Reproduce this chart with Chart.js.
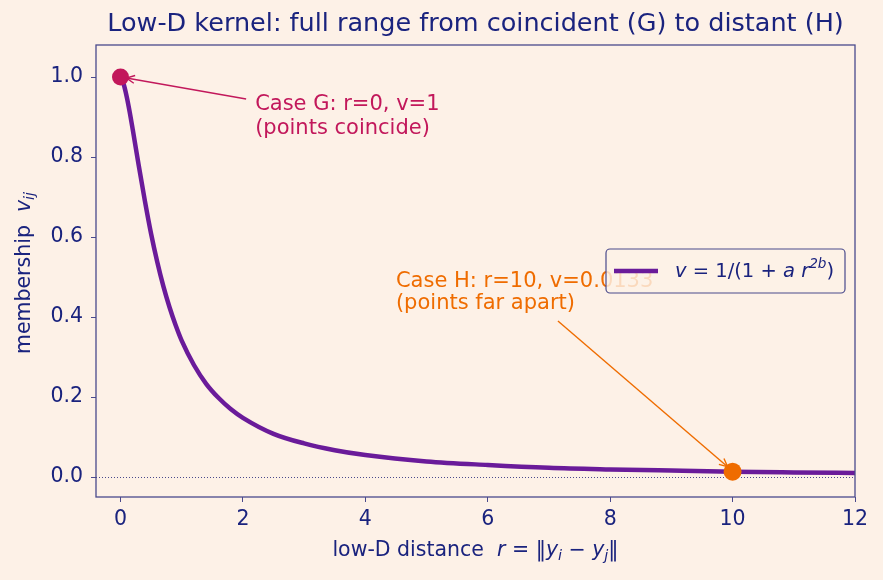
<!DOCTYPE html>
<html lang="en">
<head>
  <meta charset="UTF-8" />
  <title>Low-D kernel</title>
  <script src="https://cdn.jsdelivr.net/npm/chart.js"></script>
  <style>
    html, body { margin: 0; padding: 0; background: #fdf1e7; }
    #wrap { width: 883px; height: 580px; }
  </style>
</head>
<body>
  <div id="wrap"><canvas id="kernelChart" width="883" height="580"></canvas></div>

  <script>
    // distances r and kernel values v
    const rValues = [0, 0.05, 0.1, 0.15, 0.2, 0.3, 0.4, 0.5, 0.6, 0.7, 0.8, 0.9, 1.0, 1.2, 1.4, 1.6, 1.8, 2.0, 2.5, 3.0, 3.5, 4, 5, 6, 7, 8, 9, 10, 11, 12];
    const vValues = [1.0, 0.983, 0.952, 0.913, 0.869, 0.777, 0.689, 0.608, 0.538, 0.477, 0.425, 0.380, 0.341, 0.280, 0.233, 0.198, 0.170, 0.148, 0.108, 0.084, 0.067, 0.055, 0.039, 0.030, 0.023, 0.019, 0.016, 0.0133, 0.0115, 0.010];

    const caseG = { r: 0, v: 1 };
    const caseH = { r: 10, v: 0.0133 };

    const xTicks = [0, 2, 4, 6, 8, 10, 12];
    const yTicks = [0, 0.2, 0.4, 0.6, 0.8, 1.0];

    const navy = "#1a237e";
    const spine = "#4a4a8c";
    const purple = "#6a1b9a";
    const pink = "#c2185b";
    const orange = "#ef6c00";
    const FONT = "'DejaVu Sans', sans-serif";

    // draw a run of text pieces, some italic, some sub/superscript
    function drawRuns(ctx, runs, x, y, size, color, align) {
      ctx.save();
      ctx.fillStyle = color;
      ctx.textBaseline = "middle";
      ctx.textAlign = "left";
      const fontFor = (r) => {
        const s = r.sub || r.sup ? size * 0.7 : size;
        return (r.it ? "oblique " : "") + s + "px " + FONT;
      };
      let total = 0;
      runs.forEach(r => { ctx.font = fontFor(r); total += ctx.measureText(r.t).width; });
      let cx = align === "center" ? x - total / 2 : x;
      runs.forEach(r => {
        ctx.font = fontFor(r);
        let dy = 0;
        if (r.sub) dy = size * 0.28;
        if (r.sup) dy = -size * 0.38;
        ctx.fillText(r.t, cx, y + dy);
        cx += ctx.measureText(r.t).width;
      });
      ctx.restore();
    }

    function arrow(ctx, x1, y1, x2, y2, color) {
      ctx.save();
      ctx.strokeStyle = color;
      ctx.lineWidth = 1.4;
      ctx.beginPath();
      ctx.moveTo(x1, y1);
      ctx.lineTo(x2, y2);
      ctx.stroke();
      const ang = Math.atan2(y2 - y1, x2 - x1);
      const L = 9, w = 0.45;
      ctx.beginPath();
      ctx.moveTo(x2 - L * Math.cos(ang - w), y2 - L * Math.sin(ang - w));
      ctx.lineTo(x2, y2);
      ctx.lineTo(x2 - L * Math.cos(ang + w), y2 - L * Math.sin(ang + w));
      ctx.stroke();
      ctx.restore();
    }

    const decorations = {
      id: "decorations",
      beforeDraw(chart) {
        const ctx = chart.ctx;
        ctx.save();
        ctx.fillStyle = "#fdf1e7";
        ctx.fillRect(0, 0, chart.width, chart.height);
        ctx.restore();
      },
      beforeDatasetsDraw(chart) {
        const { ctx, chartArea: a, scales: { y } } = chart;
        const y0 = y.getPixelForValue(0);
        ctx.save();
        ctx.strokeStyle = spine;
        ctx.lineWidth = 1;
        ctx.setLineDash([1, 2]);
        ctx.beginPath();
        ctx.moveTo(a.left, y0 + 0.5);
        ctx.lineTo(a.right, y0 + 0.5);
        ctx.stroke();
        ctx.restore();
      },
      afterDraw(chart) {
        const { ctx, chartArea: a, scales: { x, y } } = chart;

        // frame
        ctx.save();
        ctx.strokeStyle = spine;
        ctx.lineWidth = 1.3;
        ctx.strokeRect(a.left, a.top, a.right - a.left, a.bottom - a.top);
        ctx.restore();

        // title
        ctx.save();
        ctx.fillStyle = navy;
        ctx.font = "25.5px " + FONT;
        ctx.textAlign = "center";
        ctx.textBaseline = "middle";
        ctx.fillText("Low-D kernel: full range from coincident (G) to distant (H)", (a.left + a.right) / 2, 24);
        ctx.restore();

        // axis titles
        drawRuns(ctx, [
          { t: "low-D distance  " }, { t: "r", it: 1 }, { t: " = \u2016" },
          { t: "y", it: 1 }, { t: "i", it: 1, sub: 1 }, { t: " \u2212 " },
          { t: "y", it: 1 }, { t: "j", it: 1, sub: 1 }, { t: "\u2016" }
        ], (a.left + a.right) / 2, 551, 20.5, navy, "center");

        ctx.save();
        ctx.translate(25, 273);
        ctx.rotate(-Math.PI / 2);
        drawRuns(ctx, [
          { t: "membership  " }, { t: "v", it: 1 }, { t: "ij", it: 1, sub: 1 }
        ], 0, 0, 20.5, navy, "center");
        ctx.restore();

        // annotation G
        const gx = x.getPixelForValue(caseG.r), gy = y.getPixelForValue(caseG.v);
        const gtx = x.getPixelForValue(2.2), gty = y.getPixelForValue(0.9);
        ctx.save();
        ctx.fillStyle = pink;
        ctx.font = "21px " + FONT;
        ctx.textBaseline = "middle";
        ctx.fillText("Case G: r=0, v=1", gtx, gty - 12);
        ctx.fillText("(points coincide)", gtx, gty + 12);
        ctx.restore();
        arrow(ctx, gtx - 9, gty - 18, gx + 6, gy + 1, pink);

        // annotation H
        const hx = x.getPixelForValue(caseH.r), hy = y.getPixelForValue(caseH.v);
        const htx = x.getPixelForValue(4.5), hty = y.getPixelForValue(0.46);
        ctx.save();
        ctx.fillStyle = orange;
        ctx.font = "21px " + FONT;
        ctx.textBaseline = "middle";
        ctx.fillText("Case H: r=10, v=0.0133", htx, hty - 11);
        ctx.fillText("(points far apart)", htx, hty + 11);
        ctx.restore();
        arrow(ctx, htx + 162, hty + 28, hx - 5, hy - 5, orange);

        // legend
        const lx = 606, ly = 249, lw = 239, lh = 44;
        ctx.save();
        ctx.fillStyle = "rgba(253, 241, 231, 0.82)";
        ctx.strokeStyle = spine;
        ctx.lineWidth = 1.2;
        ctx.beginPath();
        ctx.roundRect(lx, ly, lw, lh, 4);
        ctx.fill();
        ctx.stroke();
        ctx.strokeStyle = purple;
        ctx.lineWidth = 4.5;
        ctx.beginPath();
        ctx.moveTo(lx + 8, ly + lh / 2);
        ctx.lineTo(lx + 52, ly + lh / 2);
        ctx.stroke();
        ctx.restore();
        drawRuns(ctx, [
          { t: "v", it: 1 }, { t: " = 1/(1 + " }, { t: "a", it: 1 }, { t: " " },
          { t: "r", it: 1 }, { t: "2b", it: 1, sup: 1 }, { t: ")" }
        ], lx + 69, ly + lh / 2 + 1, 19.5, navy, "left");
      }
    };

    const tickStyle = { color: navy, font: { family: "DejaVu Sans", size: 20.5 } };

    new Chart(document.getElementById("kernelChart").getContext("2d"), {
      type: "line",
      data: {
        datasets: [
          {
            label: "G",
            data: [{ x: caseG.r, y: caseG.v }],
            pointRadius: 8.5,
            pointBackgroundColor: pink,
            pointBorderWidth: 0,
            showLine: false,
            order: 1
          },
          {
            label: "H",
            data: [{ x: caseH.r, y: caseH.v }],
            pointRadius: 9,
            pointBackgroundColor: orange,
            pointBorderWidth: 0,
            showLine: false,
            order: 1
          },
          {
            label: "v = 1/(1 + a r^2b)",
            data: rValues.map((r, i) => ({ x: r, y: vValues[i] })),
            borderColor: purple,
            borderWidth: 4.5,
            pointRadius: 0,
            cubicInterpolationMode: "monotone",
            fill: false,
            order: 2
          }
        ]
      },
      options: {
        responsive: false,
        animation: false,
        layout: { padding: { left: 0, top: 45, right: 28, bottom: 0 } },
        plugins: { legend: { display: false }, tooltip: { enabled: false }, title: { display: false } },
        scales: {
          x: {
            type: "linear",
            min: -0.4,
            max: 12,
            grid: { display: true, drawOnChartArea: false, drawTicks: true, tickLength: 5, color: spine },
            border: { display: false },
            ticks: { ...tickStyle, padding: 5, maxRotation: 0 },
            afterBuildTicks: s => { s.ticks = xTicks.map(v => ({ value: v })); },
            afterFit: s => { s.height = 83; }
          },
          y: {
            min: -0.05,
            max: 1.08,
            grid: { display: true, drawOnChartArea: false, drawTicks: true, tickLength: 5, color: spine },
            border: { display: false },
            ticks: { ...tickStyle, padding: 8, callback: v => v.toFixed(1) },
            afterBuildTicks: s => { s.ticks = yTicks.map(v => ({ value: v })); },
            afterFit: s => { s.width = 96; }
          }
        }
      },
      plugins: [decorations]
    });
  </script>
</body>
</html>
